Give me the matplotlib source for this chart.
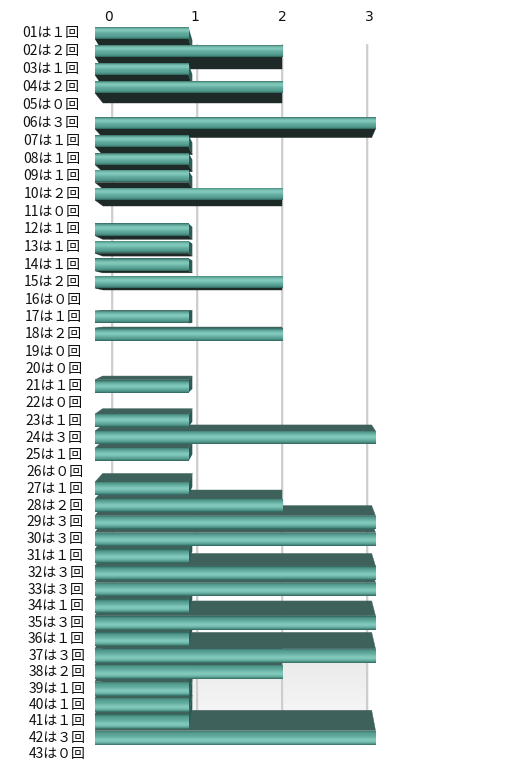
import numpy as np
import matplotlib
matplotlib.use('Agg')
import matplotlib.pyplot as plt
from matplotlib.patches import Polygon, Rectangle
from matplotlib.colors import to_rgb

# ---- data ----
numbers = [f"{i:02d}" for i in range(1, 44)]
counts = [1, 2, 1, 2, 0, 3, 1, 1, 1, 2, 0, 1, 1, 1, 2, 0, 1, 2, 0, 0, 1, 0,
          1, 3, 1, 0, 1, 2, 3, 3, 1, 3, 3, 1, 3, 1, 3, 2, 1, 1, 1, 3, 0]
tick_values = [0, 1, 2, 3]
labels = [f"{n}は{chr(0xFF10 + c)}回" for n, c in zip(numbers, counts)]

# ---- layout / perspective constants (pixels) ----
W, H = 530, 777
X0, XU = 95.0, 93.5          # front plane: value 0 and px per unit
WALL0, WALLU = 112.0, 85.0   # back wall (gridlines)
TICK0, TICKU = 108.0, 87.0   # top tick labels
VP_Y, K = 307.0, 0.047       # vertical vanishing behaviour
BACK_FRAC = 0.45

fig = plt.figure(figsize=(W / 100, H / 100), dpi=100)
ax = fig.add_axes([0, 0, 1, 1])
ax.set_xlim(-X0 / XU, (W - X0) / XU)
ax.set_ylim(H, 0)
ax.axis('off')

def px2v(px):
    return (px - X0) / XU

def wall(v):
    return px2v(WALL0 + WALLU * v)

n = len(counts)
idx = np.arange(n)
pos = 33 + 18.11 * idx - 0.02247 * idx ** 2
t = idx / (n - 1)
hgt = 11.5 + 3.0 * t
dep = K * (VP_Y - pos)

# back wall light grey floor area (soft gradient)
g = np.linspace(0, 1, 30)
shade = 0.90 + 0.06 * g
wall_img = np.repeat(np.stack([shade, shade, shade], axis=1)[:, None, :], 2, axis=1)
ax.imshow(wall_img, extent=[wall(0), wall(3), 710, 640], aspect='auto',
          origin='upper', interpolation='bilinear', zorder=0.5)

# gridlines + top tick labels
for k in tick_values:
    xv = wall(k)
    ax.plot([xv + 0.012, xv + 0.012], [45, 711], color='#ececec', lw=1.2, zorder=0.8)
    ax.plot([xv, xv], [45, 711], color='#c4c4c4', lw=1.1, zorder=0.9)
    ax.text(px2v(TICK0 + TICKU * k), 17, str(k), ha='center', va='center',
            fontsize=10, color='#111111', family=['DejaVu Sans'])

dark_bottom = '#1d2a28'
top_face = '#3f615c'
end_face = '#2e5a53'

c_dark = np.array(to_rgb('#2b6158'))
c_mid = np.array(to_rgb('#5aa497'))
c_light = np.array(to_rgb('#8fd6c8'))

for i, c in enumerate(counts):
    if c <= 0:
        continue
    y = pos[i]
    h = hgt[i]
    d = dep[i]
    xb0 = BACK_FRAC * wall(0)
    xb1 = c + BACK_FRAC * (wall(c) - c)
    if d > 0:
        ye = y + h / 2
        col = dark_bottom
    else:
        ye = y - h / 2
        col = top_face
    ax.add_patch(Polygon([(0, ye), (c, ye), (xb1, ye + d), (xb0, ye + d)],
                         closed=True, facecolor=col, edgecolor=col, lw=0.3, zorder=2))
    if xb1 > c:
        ax.add_patch(Polygon([(c, y - h / 2), (c, y + h / 2), (xb1, y + h / 2 + d),
                              (xb1, y - h / 2 + d)], closed=True,
                             facecolor=end_face, edgecolor='none', zorder=2.1))
    # front face with tube-like gradient
    f = 0.25 + 0.45 * t[i]
    s = np.linspace(0, 1, 40)
    inten = np.exp(-((s - f) / 0.22) ** 2)
    edge = np.clip(1 - (np.abs(s - 0.5) * 2) ** 4, 0, 1)
    base = c_dark + (c_mid - c_dark) * edge[:, None]
    rgb = base + (c_light - base) * (0.75 * inten)[:, None]
    img = np.repeat(rgb[:, None, :], 2, axis=1)
    rect = Rectangle((0, y - h / 2), c, h, facecolor='none', edgecolor='none')
    ax.add_patch(rect)
    im = ax.imshow(img, extent=[0, c, y + h / 2, y - h / 2], aspect='auto',
                   origin='upper', interpolation='bilinear', zorder=3)
    im.set_clip_path(rect)

# category labels
for i, lab in enumerate(labels):
    xr = px2v(79 + 7 * t[i])
    ax.text(xr, pos[i], lab, ha='right', va='center', fontsize=10,
            color='#111111', family=['Noto Sans CJK JP', 'DejaVu Sans'])

ax.set_xlim(-X0 / XU, (W - X0) / XU)
ax.set_ylim(H, 0)
fig.savefig('out.png', dpi=100)
